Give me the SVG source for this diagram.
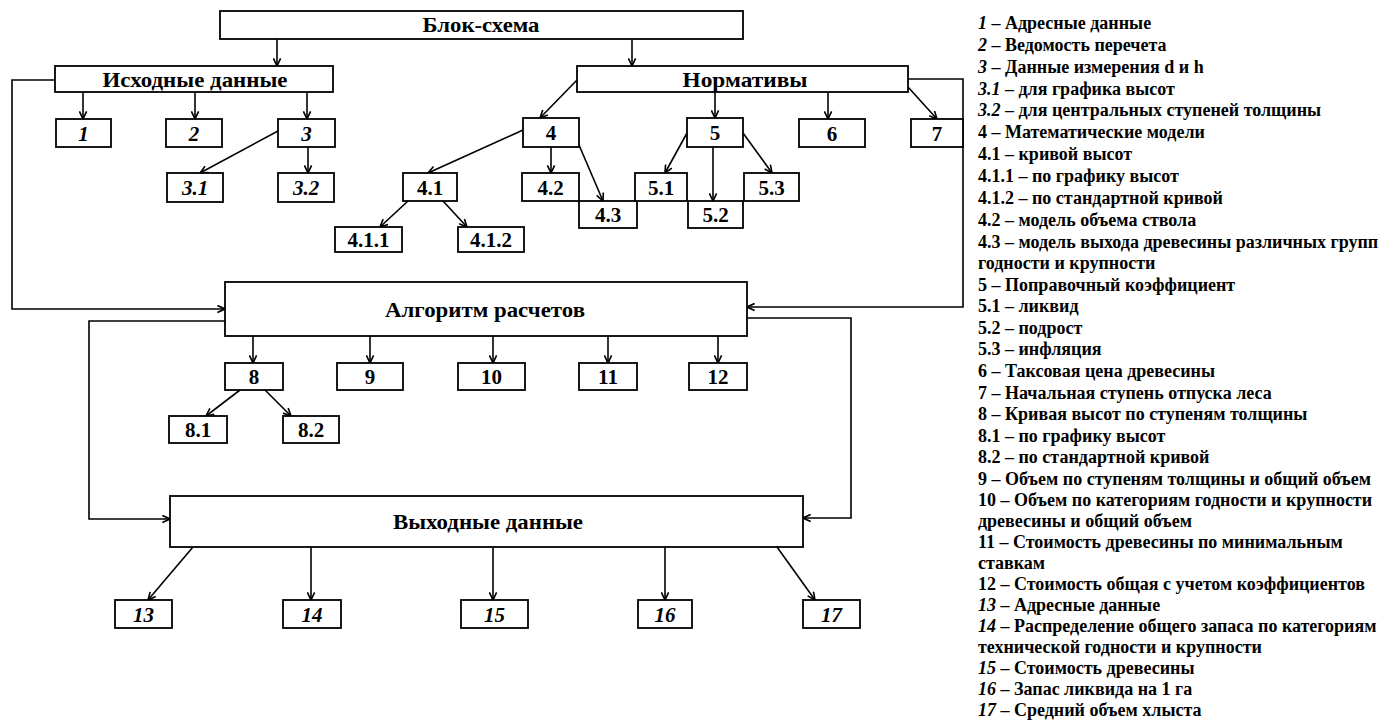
<svg xmlns="http://www.w3.org/2000/svg" width="1381" height="722" viewBox="0 0 1381 722">
<style>
.bx{fill:#fff;stroke:#000;stroke-width:1.8}
.t{font-family:"Liberation Serif","Times New Roman",serif;font-weight:bold;font-size:21px;text-anchor:middle;fill:#000}
.h{font-size:22px}
.i{font-style:italic}
.c{fill:none;stroke:#000;stroke-width:1.6}
.lg{font-family:"Liberation Serif","Times New Roman",serif;font-weight:bold;font-size:18px;fill:#000}
</style>
<defs>
<marker id="a" viewBox="0 0 10 10" refX="9.5" refY="5" markerWidth="9" markerHeight="9" markerUnits="userSpaceOnUse" orient="auto">
<path d="M1,1 L9.5,5 L1,9" fill="none" stroke="#000" stroke-width="1.8"/>
</marker>
</defs>
<rect width="1381" height="722" fill="#fff"/>
<g id="connectors">
<path class="c" d="M277,39 V66" marker-end="url(#a)"/>
<path class="c" d="M632,39 V66" marker-end="url(#a)"/>
<path class="c" d="M83,92 V119" marker-end="url(#a)"/>
<path class="c" d="M195,92 V119" marker-end="url(#a)"/>
<path class="c" d="M307,92 V119" marker-end="url(#a)"/>
<path class="c" d="M278,131 L200,173" marker-end="url(#a)"/>
<path class="c" d="M308,147 V173" marker-end="url(#a)"/>
<path class="c" d="M55,80 H12 V309 H225" marker-end="url(#a)"/>
<path class="c" d="M908,79 H963 V307 H747" marker-end="url(#a)"/>
<path class="c" d="M577,80 L540,118" marker-end="url(#a)"/>
<path class="c" d="M715,92 V118" marker-end="url(#a)"/>
<path class="c" d="M828,92 V119" marker-end="url(#a)"/>
<path class="c" d="M908,87 L937,119" marker-end="url(#a)"/>
<path class="c" d="M523,130 L428,173" marker-end="url(#a)"/>
<path class="c" d="M551,147 V173" marker-end="url(#a)"/>
<path class="c" d="M579,145 L603,201" marker-end="url(#a)"/>
<path class="c" d="M687,133 L665,173" marker-end="url(#a)"/>
<path class="c" d="M713,147 V201" marker-end="url(#a)"/>
<path class="c" d="M743,133 L772,173" marker-end="url(#a)"/>
<path class="c" d="M408,201 L380,227" marker-end="url(#a)"/>
<path class="c" d="M443,201 L467,227" marker-end="url(#a)"/>
<path class="c" d="M253,336 V363" marker-end="url(#a)"/>
<path class="c" d="M370,336 V363" marker-end="url(#a)"/>
<path class="c" d="M493,336 V363" marker-end="url(#a)"/>
<path class="c" d="M608,336 V363" marker-end="url(#a)"/>
<path class="c" d="M718,336 V363" marker-end="url(#a)"/>
<path class="c" d="M240,390 L206,416" marker-end="url(#a)"/>
<path class="c" d="M265,390 L291,416" marker-end="url(#a)"/>
<path class="c" d="M225,321 H89 V519 H170" marker-end="url(#a)"/>
<path class="c" d="M747,318 H851 V518 H803" marker-end="url(#a)"/>
<path class="c" d="M193,547 L148,600" marker-end="url(#a)"/>
<path class="c" d="M311,547 V600" marker-end="url(#a)"/>
<path class="c" d="M493,547 V600" marker-end="url(#a)"/>
<path class="c" d="M665,547 V600" marker-end="url(#a)"/>
<path class="c" d="M777,547 L815,600" marker-end="url(#a)"/>
</g>
<g id="blok"><rect class="bx" x="220" y="11" width="523" height="28"/><text class="t h" x="481" y="32" textLength="117" lengthAdjust="spacingAndGlyphs">Блок-схема</text></g>
<g id="ishod"><rect class="bx" x="55" y="66" width="278" height="26"/><text class="t h" x="195" y="87" textLength="185" lengthAdjust="spacingAndGlyphs">Исходные данные</text></g>
<g id="norm"><rect class="bx" x="577" y="66" width="331" height="26"/><text class="t h" x="745" y="87" textLength="125" lengthAdjust="spacingAndGlyphs">Нормативы</text></g>
<g id="n1"><rect class="bx" x="56" y="119" width="55" height="28"/><text class="t i" x="83.5" y="141">1</text></g>
<g id="n2"><rect class="bx" x="166" y="119" width="56" height="28"/><text class="t i" x="194" y="141">2</text></g>
<g id="n3"><rect class="bx" x="278" y="119" width="57" height="28"/><text class="t i" x="306.5" y="141">3</text></g>
<g id="n3_1"><rect class="bx" x="167" y="173" width="56" height="29"/><text class="t i" x="195" y="195">3.1</text></g>
<g id="n3_2"><rect class="bx" x="278" y="173" width="56" height="29"/><text class="t i" x="306" y="195">3.2</text></g>
<g id="n4"><rect class="bx" x="523" y="118" width="56" height="29"/><text class="t" x="551" y="140">4</text></g>
<g id="n5"><rect class="bx" x="687" y="118" width="56" height="29"/><text class="t" x="715" y="140">5</text></g>
<g id="n6"><rect class="bx" x="799" y="119" width="66" height="28"/><text class="t" x="832" y="141">6</text></g>
<g id="n7"><rect class="bx" x="911" y="119" width="52" height="28"/><text class="t" x="937" y="141">7</text></g>
<g id="n4_1"><rect class="bx" x="403" y="173" width="54" height="28"/><text class="t" x="430" y="195">4.1</text></g>
<g id="n4_2"><rect class="bx" x="522" y="173" width="57" height="28"/><text class="t" x="550.5" y="195">4.2</text></g>
<g id="n4_3"><rect class="bx" x="579" y="201" width="58" height="27"/><text class="t" x="608" y="222">4.3</text></g>
<g id="n5_1"><rect class="bx" x="635" y="173" width="52" height="28"/><text class="t" x="661" y="195">5.1</text></g>
<g id="n5_2"><rect class="bx" x="688" y="201" width="55" height="27"/><text class="t" x="715.5" y="222">5.2</text></g>
<g id="n5_3"><rect class="bx" x="744" y="173" width="55" height="28"/><text class="t" x="771.5" y="195">5.3</text></g>
<g id="n4_1_1"><rect class="bx" x="335" y="227" width="67" height="25"/><text class="t" x="368.5" y="247">4.1.1</text></g>
<g id="n4_1_2"><rect class="bx" x="458" y="227" width="66" height="25"/><text class="t" x="491" y="247">4.1.2</text></g>
<g id="alg"><rect class="bx" x="225" y="282" width="522" height="54"/><text class="t h" x="485" y="317" textLength="200" lengthAdjust="spacingAndGlyphs">Алгоритм расчетов</text></g>
<g id="n8"><rect class="bx" x="225" y="363" width="58" height="27"/><text class="t" x="254" y="384">8</text></g>
<g id="n9"><rect class="bx" x="337" y="363" width="66" height="27"/><text class="t" x="370" y="384">9</text></g>
<g id="n10"><rect class="bx" x="458" y="363" width="67" height="27"/><text class="t" x="491.5" y="384">10</text></g>
<g id="n11"><rect class="bx" x="579" y="363" width="58" height="27"/><text class="t" x="608" y="384">11</text></g>
<g id="n12"><rect class="bx" x="689" y="363" width="58" height="27"/><text class="t" x="718" y="384">12</text></g>
<g id="n8_1"><rect class="bx" x="169" y="416" width="58" height="27"/><text class="t" x="198" y="437">8.1</text></g>
<g id="n8_2"><rect class="bx" x="283" y="416" width="56" height="27"/><text class="t" x="311" y="437">8.2</text></g>
<g id="vyh"><rect class="bx" x="170" y="496" width="633" height="51"/><text class="t h" x="488" y="529" textLength="190" lengthAdjust="spacingAndGlyphs">Выходные данные</text></g>
<g id="n13"><rect class="bx" x="115" y="600" width="57" height="28"/><text class="t i" x="143.5" y="622">13</text></g>
<g id="n14"><rect class="bx" x="283" y="600" width="58" height="28"/><text class="t i" x="312" y="622">14</text></g>
<g id="n15"><rect class="bx" x="461" y="600" width="67" height="28"/><text class="t i" x="494.5" y="622">15</text></g>
<g id="n16"><rect class="bx" x="638" y="600" width="54" height="28"/><text class="t i" x="665" y="622">16</text></g>
<g id="n17"><rect class="bx" x="803" y="600" width="57" height="28"/><text class="t i" x="831.5" y="622">17</text></g>
<g id="legend" class="lg">
<text x="978" y="29"><tspan class="i">1</tspan> – Адресные данные</text>
<text x="978" y="51"><tspan class="i">2</tspan> – Ведомость перечета</text>
<text x="978" y="73"><tspan class="i">3</tspan> – Данные измерения d и h</text>
<text x="978" y="95"><tspan class="i">3.1</tspan> – для графика высот</text>
<text x="978" y="116"><tspan class="i">3.2</tspan> – для центральных ступеней толщины</text>
<text x="978" y="138">4 – Математические модели</text>
<text x="978" y="160">4.1 – кривой высот</text>
<text x="978" y="182">4.1.1 – по графику высот</text>
<text x="978" y="204">4.1.2 – по стандартной кривой</text>
<text x="978" y="226">4.2 – модель объема ствола</text>
<text x="978" y="248">4.3 – модель выхода древесины различных групп</text>
<text x="978" y="269">годности и крупности</text>
<text x="978" y="291">5 – Поправочный коэффициент</text>
<text x="978" y="312">5.1 – ликвид</text>
<text x="978" y="334">5.2 – подрост</text>
<text x="978" y="355">5.3 – инфляция</text>
<text x="978" y="377">6 – Таксовая цена древесины</text>
<text x="978" y="399">7 – Начальная ступень отпуска леса</text>
<text x="978" y="420">8 – Кривая высот по ступеням толщины</text>
<text x="978" y="442">8.1 – по графику высот</text>
<text x="978" y="463">8.2 – по стандартной кривой</text>
<text x="978" y="485">9 – Объем по ступеням толщины и общий объем</text>
<text x="978" y="506">10 – Объем по категориям годности и крупности</text>
<text x="978" y="527">древесины и общий объем</text>
<text x="978" y="548">11 – Стоимость древесины по минимальным</text>
<text x="978" y="569">ставкам</text>
<text x="978" y="590">12 – Стоимость общая с учетом коэффициентов</text>
<text x="978" y="611"><tspan class="i">13</tspan> – Адресные данные</text>
<text x="978" y="632"><tspan class="i">14</tspan> – Распределение общего запаса по категориям</text>
<text x="978" y="653">технической годности и крупности</text>
<text x="978" y="674"><tspan class="i">15</tspan> – Стоимость древесины</text>
<text x="978" y="695"><tspan class="i">16</tspan> – Запас ликвида на 1 га</text>
<text x="978" y="716"><tspan class="i">17</tspan> – Средний объем хлыста</text>
</g>
</svg>
